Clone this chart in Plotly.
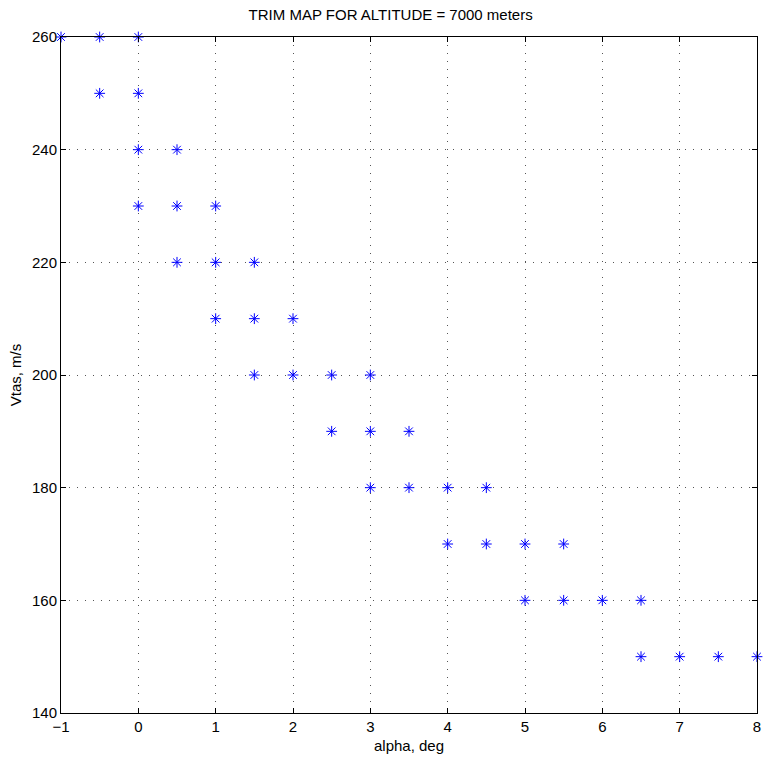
import plotly.graph_objects as go

alpha = [-1, -0.5, 0,
         -0.5, 0,
         0, 0.5,
         0, 0.5, 1,
         0.5, 1, 1.5,
         1, 1.5, 2,
         1.5, 2, 2.5, 3,
         2.5, 3, 3.5,
         3, 3.5, 4, 4.5,
         4, 4.5, 5, 5.5,
         5, 5.5, 6, 6.5,
         6.5, 7, 7.5, 8]
vtas = [260, 260, 260,
        250, 250,
        240, 240,
        230, 230, 230,
        220, 220, 220,
        210, 210, 210,
        200, 200, 200, 200,
        190, 190, 190,
        180, 180, 180, 180,
        170, 170, 170, 170,
        160, 160, 160, 160,
        150, 150, 150, 150]

xticks = [-1, 0, 1, 2, 3, 4, 5, 6, 7, 8]
yticks = [140, 160, 180, 200, 220, 240, 260]

fig = go.Figure()
fig.add_trace(go.Scatter(
    x=alpha, y=vtas, mode="markers",
    marker=dict(symbol="asterisk-open", size=9, color="blue",
                line=dict(color="blue", width=1)),
    cliponaxis=False, showlegend=False))

axis_common = dict(
    showline=True, linecolor="black", linewidth=1, mirror="ticks",
    ticks="inside", ticklen=5, tickcolor="black",
    showgrid=True, gridcolor="#555555", gridwidth=1, griddash="1px,7px",
    zeroline=False, tickfont=dict(size=15, color="black"),
)

fig.update_xaxes(range=[-1, 8], tickvals=xticks,
                 ticktext=[("\u2212" + str(-t)) if t < 0 else str(t) for t in xticks],
                 title=dict(text="alpha, deg", font=dict(size=15, color="black"), standoff=6),
                 **axis_common)
fig.update_yaxes(range=[140, 260], tickvals=yticks,
                 title=dict(text="Vtas, m/s", font=dict(size=15, color="black"), standoff=6),
                 **axis_common)

fig.update_layout(
    width=769, height=771,
    margin=dict(l=61, r=8, t=37, b=58),
    plot_bgcolor="white", paper_bgcolor="white",
    font=dict(family="Liberation Sans, Arial, sans-serif", color="black"),
    title=dict(text="TRIM MAP FOR ALTITUDE = 7000 meters", x=0.508, xanchor="center",
               y=1 - 15 / 771, yanchor="middle", font=dict(size=15, color="black")),
)

fig.write_html("out.html", config={"displayModeBar": False},
               post_script="document.body.style.margin='0';document.body.style.overflow='hidden';")
